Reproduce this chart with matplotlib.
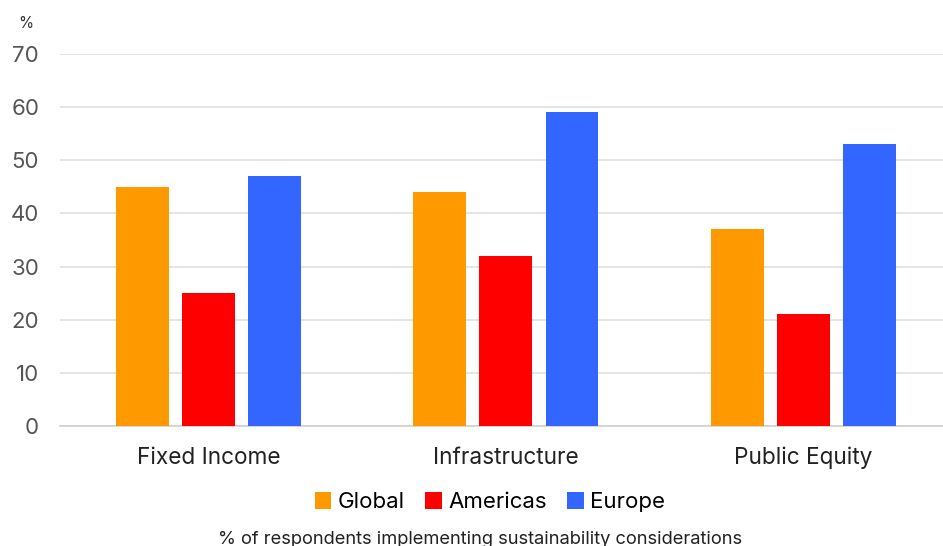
import matplotlib.pyplot as plt
import numpy as np

plt.rcParams['font.family'] = ['Inter', 'DejaVu Sans']

categories = ["Fixed Income", "Infrastructure", "Public Equity"]
series = ["Global", "Americas", "Europe"]
global_vals = [45, 44, 37]
americas_vals = [25, 32, 21]
europe_vals = [47, 59, 53]
colors = ["#FF9900", "#FF0000", "#3366FF"]

fig = plt.figure(figsize=(9.43, 5.46), dpi=100)
ax = fig.add_axes([60/943, 1 - 426/546, 1 - 60/943, (426 - 54)/546])

x = np.arange(len(categories))
w = 0.178
step = 0.222
for i, (name, vals) in enumerate(zip(series, [global_vals, americas_vals, europe_vals])):
    ax.bar(x + (i - 1) * step, vals, width=w, color=colors[i], label=name, zorder=3)

ax.set_ylim(0, 70)
ax.set_xlim(-0.5, 2.47)
ax.set_yticks(range(0, 71, 10))
ax.yaxis.grid(True, color="#E0E0E0", linewidth=1.2, zorder=0)
for s in ["top", "right", "left"]:
    ax.spines[s].set_visible(False)
ax.spines["bottom"].set_color("#D0D0D0")
ax.spines["bottom"].set_linewidth(1.2)
ax.tick_params(axis="y", length=0, pad=15, labelsize=16, labelcolor="#555555")
ax.tick_params(axis="x", length=0, pad=15, labelsize=16.3, labelcolor="#222222")
ax.set_xticks(x)
ax.set_xticklabels(categories)

fig.text(18/943, 1 - 24/546, "%", fontsize=11, color="#333333", ha="left", va="center")

ax.legend(loc="center", bbox_to_anchor=((490 - 60) / 883, -0.205), ncol=3,
          frameon=False, fontsize=16, handlelength=0.75, handleheight=0.75,
          handletextpad=0.3, columnspacing=0.9)
fig.text(480/943, 1 - 539/546, "% of respondents implementing sustainability considerations",
         fontsize=13.2, color="#222222", ha="center", va="center")

fig.savefig("out.png", dpi=100)
